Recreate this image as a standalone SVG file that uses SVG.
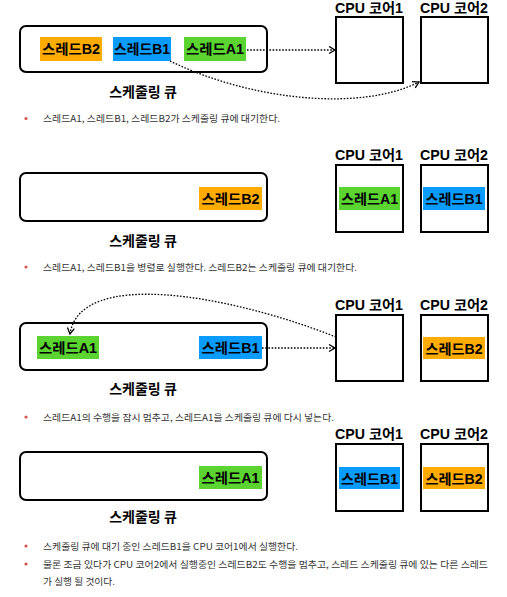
<svg xmlns="http://www.w3.org/2000/svg" width="507" height="597" viewBox="0 0 507 597">
<defs>
<style>
.q{fill:#fff;stroke:#000;stroke-width:2}
.core{fill:#fff;stroke:#000;stroke-width:2}
.or{fill:#FFAB00}
.bl{fill:#0A9BFF}
.gr{fill:#5BD432}
.lb{font-family:"Liberation Sans","Noto Sans CJK KR",sans-serif;font-size:14px;font-weight:bold;fill:#000;text-anchor:middle}
.cpu{font-family:"Liberation Sans","Noto Sans CJK KR",sans-serif;font-size:14px;font-weight:bold;fill:#000;text-anchor:middle}
.ql{font-family:"Noto Sans CJK KR",sans-serif;font-size:14px;font-weight:bold;fill:#000;text-anchor:middle}
.bt{font-family:"Noto Sans CJK KR",sans-serif;font-size:9.3px;fill:#333}
.dot{fill:#d9534f}
.ar{fill:none;stroke:#000;stroke-width:1.3;stroke-dasharray:1.6 1.6;marker-end:url(#arr)}
</style>
<marker id="arr" markerWidth="10" markerHeight="10" refX="7" refY="4" orient="auto" markerUnits="userSpaceOnUse">
<path d="M1,0.5 L7,4 L1,7.5" fill="none" stroke="#000" stroke-width="1.3"/>
</marker>
</defs>

<!-- Section 1 -->
<g id="s1-queue"><rect class="q" x="20" y="26" width="247" height="46" rx="6"/><text class="ql" x="143" y="97">스케줄링 큐</text></g>
<g id="s1-b2"><rect class="or" x="40" y="37" width="62" height="24"/><text class="lb" x="71" y="54" textLength="58" lengthAdjust="spacingAndGlyphs">스레드B2</text></g>
<g id="s1-b1"><rect class="bl" x="113" y="37" width="58" height="24"/><text class="lb" x="142" y="54" textLength="56" lengthAdjust="spacingAndGlyphs">스레드B1</text></g>
<g id="s1-a1"><rect class="gr" x="184" y="37" width="62" height="24"/><text class="lb" x="215" y="54" textLength="58" lengthAdjust="spacingAndGlyphs">스레드A1</text></g>
<g id="s1-core1"><text class="cpu" x="369" y="13" textLength="68" lengthAdjust="spacingAndGlyphs">CPU 코어1</text><rect class="core" x="336" y="17" width="67" height="66"/></g>
<g id="s1-core2"><text class="cpu" x="454" y="13" textLength="68" lengthAdjust="spacingAndGlyphs">CPU 코어2</text><rect class="core" x="421" y="17" width="67" height="66"/></g>
<g id="s1-edges">
<path class="ar" d="M247,50 L335,50"/>
<path class="ar" d="M170,61 C250,100 360,112 419,82"/>
</g>
<g id="s1-note"><circle class="dot" cx="26" cy="118.5" r="1.6"/><text class="bt" x="43" y="122" textLength="237" lengthAdjust="spacingAndGlyphs">스레드A1, 스레드B1, 스레드B2가 스케줄링 큐에 대기한다.</text></g>

<!-- Section 2 -->
<g id="s2-queue"><rect class="q" x="20" y="173" width="247" height="48" rx="6"/><text class="ql" x="143" y="246">스케줄링 큐</text></g>
<g id="s2-b2"><rect class="or" x="199" y="187" width="63" height="23"/><text class="lb" x="230.5" y="204" textLength="58" lengthAdjust="spacingAndGlyphs">스레드B2</text></g>
<g id="s2-core1"><text class="cpu" x="369" y="160" textLength="68" lengthAdjust="spacingAndGlyphs">CPU 코어1</text><rect class="core" x="336" y="165" width="67" height="67"/><rect class="gr" x="339" y="187" width="61" height="23"/><text class="lb" x="369.5" y="204" textLength="57" lengthAdjust="spacingAndGlyphs">스레드A1</text></g>
<g id="s2-core2"><text class="cpu" x="454" y="160" textLength="68" lengthAdjust="spacingAndGlyphs">CPU 코어2</text><rect class="core" x="421" y="165" width="67" height="67"/><rect class="bl" x="423" y="187" width="62" height="23"/><text class="lb" x="454" y="204" textLength="57" lengthAdjust="spacingAndGlyphs">스레드B1</text></g>
<g id="s2-note"><circle class="dot" cx="26" cy="267" r="1.6"/><text class="bt" x="43" y="270.5" textLength="314" lengthAdjust="spacingAndGlyphs">스레드A1, 스레드B1을 병렬로 실행한다. 스레드B2는 스케줄링 큐에 대기한다.</text></g>

<!-- Section 3 -->
<g id="s3-queue"><rect class="q" x="20" y="323" width="247" height="47" rx="6"/><text class="ql" x="143" y="394">스케줄링 큐</text></g>
<g id="s3-a1"><rect class="gr" x="37" y="336" width="62" height="23"/><text class="lb" x="68" y="353" textLength="58" lengthAdjust="spacingAndGlyphs">스레드A1</text></g>
<g id="s3-b1"><rect class="bl" x="199" y="336" width="63" height="23"/><text class="lb" x="230.5" y="353" textLength="58" lengthAdjust="spacingAndGlyphs">스레드B1</text></g>
<g id="s3-core1"><text class="cpu" x="369" y="310" textLength="68" lengthAdjust="spacingAndGlyphs">CPU 코어1</text><rect class="core" x="336" y="315" width="67" height="66"/></g>
<g id="s3-core2"><text class="cpu" x="454" y="310" textLength="68" lengthAdjust="spacingAndGlyphs">CPU 코어2</text><rect class="core" x="421" y="315" width="67" height="66"/><rect class="or" x="423" y="337" width="62" height="22"/><text class="lb" x="454" y="353.5" textLength="57" lengthAdjust="spacingAndGlyphs">스레드B2</text></g>
<g id="s3-edges">
<path class="ar" d="M262,348 L335,348"/>
<path class="ar" d="M336,337 C230,295 80,268 70,334"/>
</g>
<g id="s3-note"><circle class="dot" cx="26" cy="417" r="1.6"/><text class="bt" x="43" y="420.5" textLength="291" lengthAdjust="spacingAndGlyphs">스레드A1의 수행을 잠시 멈추고, 스레드A1을 스케줄링 큐에 다시 넣는다.</text></g>

<!-- Section 4 -->
<g id="s4-queue"><rect class="q" x="20" y="452" width="247" height="48" rx="6"/><text class="ql" x="143" y="522">스케줄링 큐</text></g>
<g id="s4-a1"><rect class="gr" x="199" y="466" width="63" height="23"/><text class="lb" x="230.5" y="483" textLength="58" lengthAdjust="spacingAndGlyphs">스레드A1</text></g>
<g id="s4-core1"><text class="cpu" x="369" y="439" textLength="68" lengthAdjust="spacingAndGlyphs">CPU 코어1</text><rect class="core" x="336" y="444" width="67" height="67"/><rect class="bl" x="339" y="467" width="61" height="22"/><text class="lb" x="369.5" y="483.5" textLength="57" lengthAdjust="spacingAndGlyphs">스레드B1</text></g>
<g id="s4-core2"><text class="cpu" x="454" y="439" textLength="68" lengthAdjust="spacingAndGlyphs">CPU 코어2</text><rect class="core" x="421" y="444" width="67" height="67"/><rect class="or" x="423" y="467" width="62" height="22"/><text class="lb" x="454" y="483.5" textLength="57" lengthAdjust="spacingAndGlyphs">스레드B2</text></g>
<g id="s4-note">
<circle class="dot" cx="26" cy="546" r="1.6"/><text class="bt" x="43" y="549.5" textLength="255" lengthAdjust="spacingAndGlyphs">스케줄링 큐에 대기 중인 스레드B1을 CPU 코어1에서 실행한다.</text>
<circle class="dot" cx="26" cy="564" r="1.6"/><text class="bt" x="43" y="567.5" textLength="445" lengthAdjust="spacingAndGlyphs">물론 조금 있다가 CPU 코어2에서 실행중인 스레드B2도 수행을 멈추고, 스레드 스케줄링 큐에 있는 다른 스레드</text>
<text class="bt" x="43" y="584.5" textLength="72" lengthAdjust="spacingAndGlyphs">가 실행 될 것이다.</text>
</g>
</svg>
